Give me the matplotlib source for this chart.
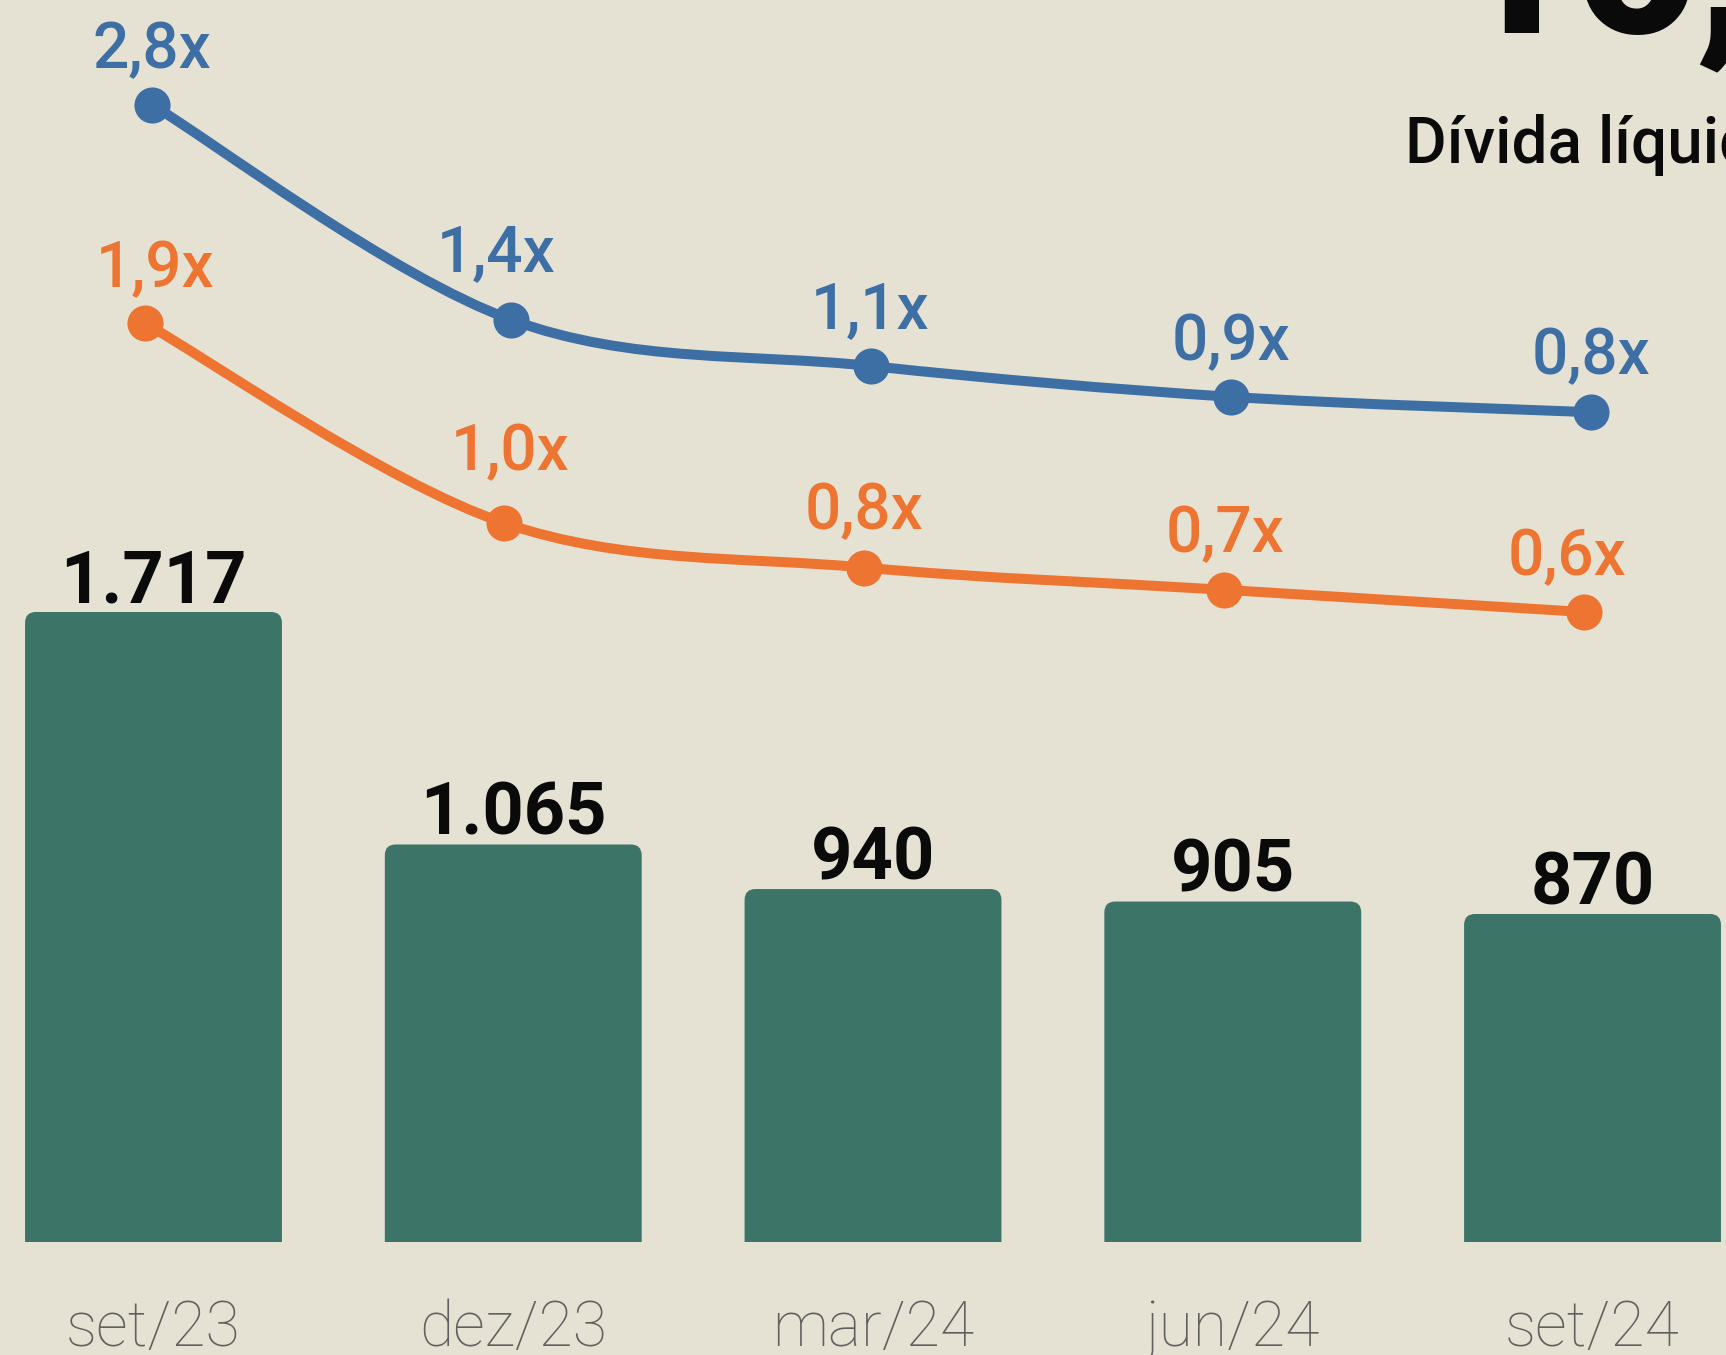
import numpy as np
import matplotlib
matplotlib.use("Agg")
import matplotlib.pyplot as plt
from matplotlib.path import Path
from matplotlib.patches import PathPatch, FancyBboxPatch

# data
periods = ["set/23", "dez/23", "mar/24", "jun/24", "set/24"]
divida = [1717, 1065, 940, 905, 870]
lev_blue = [2.8, 1.4, 1.1, 0.9, 0.8]
lev_orange = [1.9, 1.0, 0.8, 0.7, 0.6]

bg = "#e5e2d3"
c_bar = "#3c7468"
c_blue = "#3d6ea4"
c_orange = "#ee7531"
c_tick = "#606060"

W, H = 1726, 1355
plt.rcParams["font.family"] = ["Roboto", "DejaVu Sans"]


def fmt_int(v):
    return f"{v:,}".replace(",", ".")


def fmt_x(v):
    return f"{v:.1f}".replace(".", ",") + "x"


def smooth_path(xs, ys):
    # catmull-rom through the points, as cubic bezier segments
    pts = np.column_stack([xs, ys]).astype(float)
    ext = np.vstack([pts[0], pts, pts[-1]])
    verts = [pts[0]]
    codes = [Path.MOVETO]
    for i in range(len(pts) - 1):
        p0, p1, p2, p3 = ext[i], ext[i + 1], ext[i + 2], ext[i + 3]
        verts += [p1 + (p2 - p0) / 6, p2 - (p3 - p1) / 6, p2]
        codes += [Path.CURVE4] * 3
    return Path(verts, codes)


fig = plt.figure(figsize=(W / 100, H / 100), dpi=100)
fig.patch.set_facecolor(bg)

ax = fig.add_axes([0, 113 / H, 1, 1242 / H])
ax.set_facecolor(bg)
ax.set_xlim(-0.4267, 4.371)
ax.set_ylim(-49.9, 3433.5)
ax.axis("off")

x = np.arange(len(periods))

# bars, rounded on top (bottom corners fall below the axes and get clipped)
floor = -150
bars = ax.bar(x, np.array(divida) - floor, bottom=floor, width=0.714, color=c_bar)
aspect = 359.75 / 0.35655
for r in bars:
    bx, by = r.get_xy()
    p = FancyBboxPatch((bx, by), r.get_width(), r.get_height(),
                       boxstyle="round,pad=0,rounding_size=0.03",
                       mutation_aspect=aspect, fc=c_bar, ec="none")
    ax.add_patch(p)
    r.remove()

for xi, v in zip(x, divida):
    ax.annotate(fmt_int(v), (xi, v), xytext=(0, 10), textcoords="offset pixels",
                ha="center", va="baseline", fontsize=52, fontweight="bold",
                color="#0a0a0a")

for xi, lab in zip(x, periods):
    ax.annotate(lab, (xi, 0), xycoords=("data", "axes fraction"),
                xytext=(0, -104), textcoords="offset pixels",
                ha="center", va="baseline", fontsize=45, fontweight="light",
                color=c_tick)

# leverage lines, each on its own scale
ax_b = ax.twinx()
ax_b.set_ylim(-4.595, 3.480)
ax_b.axis("off")
ax_o = ax.twinx()
ax_o.set_ylim(-2.234, 3.353)
ax_o.axis("off")

nudge_b = [(0, 36), (-15, 49), (-1, 38), (0, 37), (0, 38)]
nudge_o = [(11, 36), (6, 53), (0, 38), (1, 38), (-17, 37)]

series = [(ax_o, x - 0.025, lev_orange, c_orange, nudge_o),
          (ax_b, x - 0.005, lev_blue, c_blue, nudge_b)]
for a, xs, ys, col, nudge in series:
    a.add_patch(PathPatch(smooth_path(xs, ys), fc="none", ec=col, lw=7.2,
                          capstyle="round"))
    a.plot(xs, ys, "o", ms=26, color=col, mec="none")
    for xi, v, off in zip(xs, ys, nudge):
        a.annotate(fmt_x(v), (xi, v), xytext=off, textcoords="offset pixels",
                   ha="center", va="baseline", fontsize=46, fontweight="medium",
                   color=col)

# header text cut off by the frame
fig.text(1405 / W, 1 - 163 / H, "Dívida líquida", ha="left", va="baseline",
         fontsize=46, fontweight="medium", color="#0a0a0a")
fig.text(1454 / W, 1 - 32 / H, "16,", ha="left", va="baseline",
         fontsize=150, fontweight="heavy", color="#0a0a0a")

fig.savefig("out.png", dpi=100, facecolor=bg)
